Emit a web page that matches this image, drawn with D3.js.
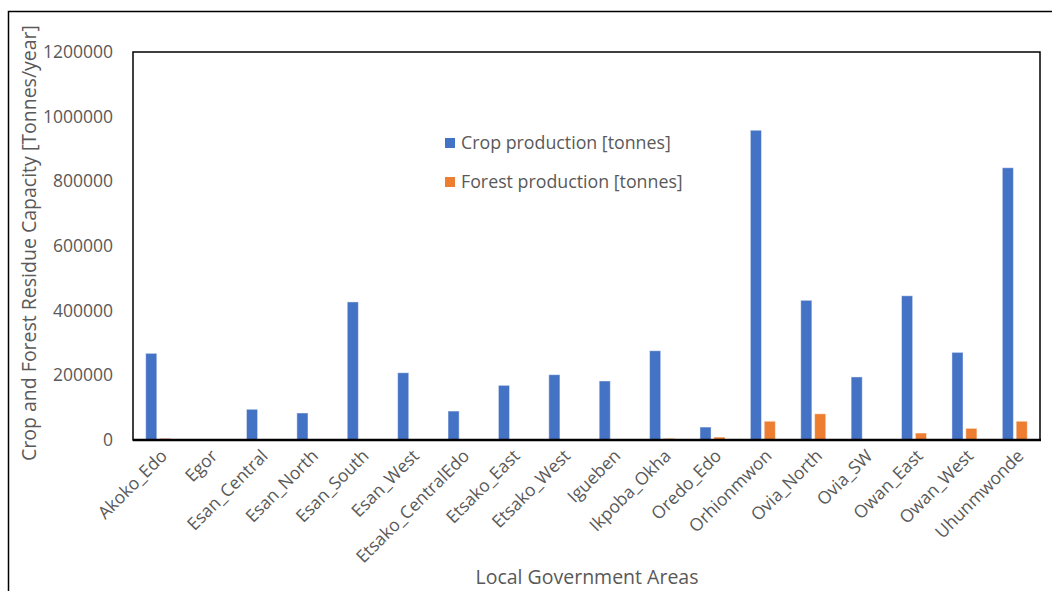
<!DOCTYPE html>
<html><head><meta charset="utf-8">
<script src="https://cdn.jsdelivr.net/npm/d3@7"></script>
<style>body{margin:0;background:#fff;} text{font-family:"Open Sans",sans-serif;fill:#595959;}</style>
</head><body>
<svg id="c" width="1052" height="591"></svg>
<script>
const categories = ["Akoko_Edo","Egor","Esan_Central","Esan_North","Esan_South","Esan_West","Etsako_CentralEdo","Etsako_East","Etsako_West","Igueben","Ikpoba_Okha","Oredo_Edo","Orhionmwon","Ovia_North","Ovia_SW","Owan_East","Owan_West","Uhunmwonde"];
const seriesNames = ["Crop production [tonnes]","Forest production [tonnes]"];
const cropValues = [268000,0,95000,83500,427000,208000,89500,169000,202000,182500,276000,40000,958000,432000,195000,446000,271000,842000];
const forestValues = [5000,0,0,0,0,0,0,0,0,0,5000,9000,58000,81000,0,21500,36000,58000];
const yTicks = [0,200000,400000,600000,800000,1000000,1200000];
const colors = ["#4472C4","#ED7D31"];

const svg = d3.select("#c");
const L=133,R=1040,T=52,B=440;
// outer frame
svg.append("rect").attr("x",8.5).attr("y",11.5).attr("width",1100).attr("height",700)
  .attr("fill","none").attr("stroke","#000").attr("stroke-width",1.5);

const x0 = d3.scaleBand().domain(categories).range([L,R]).paddingInner(0.504).paddingOuter(0.252);
const x1 = d3.scaleBand().domain([0,1]).range([0,x0.bandwidth()]).paddingInner(0.2);
const y = d3.scaleLinear().domain([0,1200000]).range([B,T]);

const data = categories.map((c,i)=>({c, v:[cropValues[i],forestValues[i]]}));
const g = svg.append("g");
g.selectAll("g.cat").data(data).join("g").attr("class","cat")
  .attr("transform",d=>`translate(${x0(d.c)},0)`)
  .selectAll("rect").data(d=>d.v.map((v,k)=>({v,k}))).join("rect")
  .attr("x",d=>x1(d.k)).attr("width",x1.bandwidth())
  .attr("y",d=>y(d.v)).attr("height",d=>B-y(d.v))
  .attr("fill",d=>colors[d.k])
  .attr("stroke",d=>d.v>0?"rgba(255,255,255,0.45)":"none").attr("stroke-width",1);

// plot border
svg.append("rect").attr("x",L).attr("y",T).attr("width",R-L).attr("height",B-T)
  .attr("fill","none").attr("stroke","#000").attr("stroke-width",1.5);
svg.append("line").attr("x1",L).attr("x2",R+1).attr("y1",B).attr("y2",B).attr("stroke","#000").attr("stroke-width",2.5);

// y axis
const yAxis = svg.append("g").attr("transform",`translate(${L},0)`)
  .call(d3.axisLeft(y).tickValues(yTicks).tickFormat(d3.format("d")).tickSize(0).tickPadding(20));
yAxis.select(".domain").remove();
yAxis.selectAll("text").style("font-size","17.5px").attr("fill","#595959");

// x axis labels
const xAxis = svg.append("g").attr("transform",`translate(0,${B})`)
  .call(d3.axisBottom(x0).tickSize(0));
xAxis.select(".domain").remove();
xAxis.selectAll("text").style("font-size","17.5px").attr("fill","#595959")
  .attr("text-anchor","end").attr("dy",null).attr("y",0)
  .attr("transform","translate(10,17) rotate(-45)");

// legend
const leg = svg.append("g");
seriesNames.forEach((s,i)=>{
  const yy = 143 + i*39;
  leg.append("rect").attr("x",445).attr("y",yy-5).attr("width",10).attr("height",10).attr("fill",colors[i]);
  leg.append("text").attr("x",461).attr("y",yy).attr("dy","0.35em").style("font-size","17.8px").text(s);
});

// axis titles
svg.append("text").attr("x",587).attr("y",584).attr("text-anchor","middle").style("font-size","19.5px").text("Local Government Areas");
svg.append("text").attr("transform","translate(36,243) rotate(-90)").attr("text-anchor","middle").style("font-size","19.5px")
  .text("Crop and Forest Residue Capacity [Tonnes/year]");
</script>
</body></html>
